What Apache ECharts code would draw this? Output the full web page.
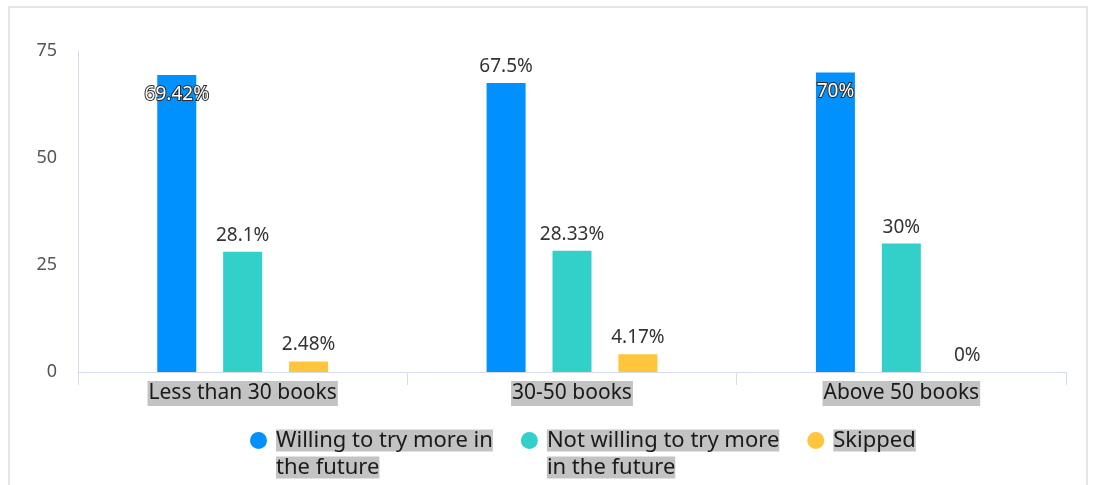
<!DOCTYPE html>
<html>
<head>
<meta charset="utf-8">
<script src="https://cdn.jsdelivr.net/npm/echarts@6/dist/echarts.min.js"></script>
<style>
  html, body { margin: 0; padding: 0; background: #fff; }
  #wrap { position: relative; width: 1095px; height: 485px; overflow: hidden; }
  #frame { position: absolute; left: 8px; top: 6px; width: 1080px; height: 500px;
           border: 2px solid #e6e6e6; box-sizing: border-box; pointer-events: none; }
  #chart { position: absolute; left: 0; top: 0; width: 1095px; height: 485px; }
</style>
</head>
<body>
<div id="wrap">
  <div id="chart"></div>
  <div id="frame"></div>
</div>
<script>
// Reading-volume groups on the category axis
const categories = ['Less than 30 books', '30-50 books', 'Above 50 books'];

// Share of respondents (%) per answer
const willing    = [69.42, 67.5, 70];
const notWilling = [28.1, 28.33, 30];
const skipped    = [2.48, 4.17, 0];

const seriesNames = ['Willing to try more in the future', 'Not willing to try more in the future', 'Skipped'];
// Legend text as it wraps onto two lines
const legendLines = [
  ['Willing to try more in', 'the future'],
  ['Not willing to try more', 'in the future'],
  ['Skipped']
];
const colors = ['#0091FF', '#33CFC9', '#FFC53D'];

const yTicks = { min: 0, max: 75, interval: 25 };

const FONT = '"Noto Sans", "Microsoft YaHei", sans-serif';

// Tall bars carry their label just inside the top edge
function barData(values) {
  return values.map(v => {
    if (v >= 69) {
      return {
        value: v,
        label: {
          position: 'insideTop',
          distance: 10,
          color: '#fff',
          textBorderColor: '#2a2a2a',
          textBorderWidth: 2
        }
      };
    }
    return v;
  });
}

const valueLabel = {
  show: true,
  position: 'top',
  distance: 7,
  formatter: p => p.value + '%',
  fontFamily: FONT,
  fontSize: 19,
  color: '#333'
};

const series = [willing, notWilling, skipped].map((vals, i) => ({
  name: seriesNames[i],
  type: 'bar',
  data: barData(vals),
  barWidth: 39,
  barGap: '69%',
  itemStyle: { color: colors[i] },
  label: valueLabel
}));

const chart = echarts.init(document.getElementById('chart'), null, { renderer: 'canvas' });
chart.setOption({
  animation: false,
  textStyle: { fontFamily: FONT },
  grid: { left: 78, right: 29, top: 51, bottom: 113, containLabel: false },
  xAxis: {
    type: 'category',
    data: categories,
    axisLine: { lineStyle: { color: '#d5ddec', width: 1 } },
    axisTick: { show: true, length: 13, lineStyle: { color: '#d5ddec' } },
    axisLabel: {
      margin: 9,
      fontFamily: FONT,
      fontSize: 21,
      color: '#1a1a1a',
      backgroundColor: '#c3c3c3',
      lineHeight: 25,
      padding: [0, 1, 0, 1]
    }
  },
  yAxis: {
    type: 'value',
    min: yTicks.min,
    max: yTicks.max,
    interval: yTicks.interval,
    splitLine: { show: false },
    axisLine: { show: true, lineStyle: { color: '#d5ddec' } },
    axisTick: { show: false },
    axisLabel: { margin: 21, fontFamily: FONT, fontSize: 18, color: '#555' }
  },
  legend: {
    top: 395,
    left: 245,
    icon: 'circle',
    itemWidth: 25,
    itemHeight: 17,
    itemGap: 28,
    data: seriesNames,
    formatter: name => {
      const lines = legendLines[seriesNames.indexOf(name)];
      // a blank first line keeps the dot level with the first text line
      const pad = lines.length > 1 ? '{e| }\n' : '';
      return pad + lines.map(l => '{t|' + l + '}').join('\n');
    },
    textStyle: {
      fontFamily: FONT,
      fontSize: 22,
      color: '#1a1a1a',
      lineHeight: 27,
      rich: {
        e: { lineHeight: 27, fontSize: 22 },
        t: { lineHeight: 27, fontSize: 22, color: '#1a1a1a', backgroundColor: '#c3c3c3', fontFamily: FONT }
      }
    }
  },
  series: series
});
</script>
</body>
</html>
